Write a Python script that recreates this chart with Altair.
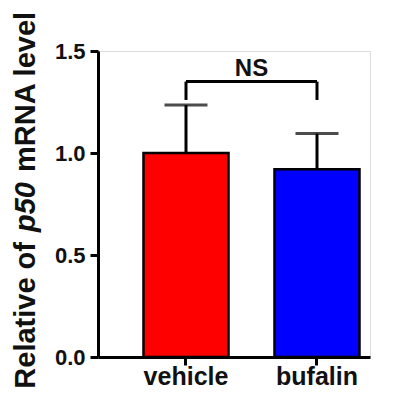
import altair as alt
import pandas as pd

groups = ["vehicle", "bufalin"]
means = [1.0, 0.92]
errors = [0.235, 0.175]
colors = ["#ff0000", "#0000ff"]
y_ticks = [0.0, 0.5, 1.0, 1.5]
bracket_y = 1.35
bracket_leg = 1.26
sig_label = "NS"
title_parts = ["Relative of", "p50", "mRNA level"]

W, H = 272, 306
FONT = "Liberation Sans, Arial, Helvetica, sans-serif"

df = pd.DataFrame({
    "group": groups,
    "mean": means,
    "upper": [m + e for m, e in zip(means, errors)],
    "leg": [bracket_leg] * len(groups),
    "top": [bracket_y] * len(groups),
})
bdf = pd.DataFrame({"start": [groups[0]], "end": [groups[1]], "y": [bracket_y], "label": [sig_label]})

pad_inner = 0.351
pad_outer = 0.2137
xscale = alt.Scale(domain=groups, paddingInner=pad_inner, paddingOuter=pad_outer, align=0.8125)
step = W / (len(groups) - pad_inner + 2 * pad_outer)

yscale = alt.Scale(domain=[0, 1.5], nice=False, zero=True)

xaxis = alt.Axis(title=None, labelAngle=0, labelFontSize=25, labelFontWeight="bold",
                 labelFont=FONT, labelColor="#111111", labelPadding=-1,
                 tickSize=8, tickWidth=3, tickColor="black",
                 domainWidth=3, domainColor="black", grid=False)
yaxis = alt.Axis(title=None, values=y_ticks, format=".1f", labelFontSize=22,
                 labelFontWeight="bold", labelFont=FONT, labelColor="#111111",
                 labelPadding=5, tickSize=8, tickWidth=3, tickColor="black",
                 domainWidth=3, domainColor="black", grid=False)

base = alt.Chart(df)

bars = base.mark_bar(stroke="black", strokeWidth=2.5).encode(
    x=alt.X("group:N", scale=xscale, axis=xaxis),
    y=alt.Y("mean:Q", scale=yscale, axis=yaxis),
    color=alt.Color("group:N", scale=alt.Scale(domain=groups, range=colors), legend=None),
)

err_rule = base.mark_rule(strokeWidth=3, color="black").encode(
    x=alt.X("group:N"), y="mean:Q", y2="upper:Q"
)
err_cap = base.mark_tick(size=43, thickness=3, color="black").encode(
    x=alt.X("group:N"), y="upper:Q"
)

legs = base.mark_rule(strokeWidth=3, color="black").encode(
    x=alt.X("group:N"), y="leg:Q", y2="top:Q"
)
bar_line = alt.Chart(bdf).mark_rule(strokeWidth=3, color="black").encode(
    x=alt.X("start:N"), x2="end:N", y="y:Q"
)
ns = alt.Chart(bdf).mark_text(fontSize=24, fontWeight="bold", font=FONT, color="#111111",
                              baseline="alphabetic", dy=-6, xOffset=step / 2).encode(
    x=alt.X("start:N"), y="y:Q", text="label:N"
)

# y-axis title built from three pieces to keep "p50" italic
tx = -63
t1 = alt.Chart(df.head(1)).mark_text(text=title_parts[0], angle=270, align="right", baseline="alphabetic",
                                     fontSize=29, fontWeight="bold", font=FONT, color="#111111").encode(
    x=alt.value(tx), y=alt.value(242 - 51))
t2 = alt.Chart(df.head(1)).mark_text(text=title_parts[1], angle=270, align="center", baseline="alphabetic",
                                     fontSize=29, fontWeight="bold", fontStyle="italic", font=FONT,
                                     color="#111111").encode(
    x=alt.value(tx), y=alt.value(207 - 51))
t3 = alt.Chart(df.head(1)).mark_text(text=title_parts[2], angle=270, align="left", baseline="alphabetic",
                                     fontSize=29, fontWeight="bold", font=FONT, color="#111111").encode(
    x=alt.value(tx), y=alt.value(172 - 51))

chart = alt.layer(bars, err_rule, err_cap, legs, bar_line, ns, t1, t2, t3).properties(
    width=W, height=H,
    autosize=alt.AutoSizeParams(type="none"),
    padding={"left": 90, "top": 43, "right": 14, "bottom": 31},
).configure_view(stroke=None).configure(background="white")

chart.save("out.html", embed_options={"renderer": "svg", "actions": False})
